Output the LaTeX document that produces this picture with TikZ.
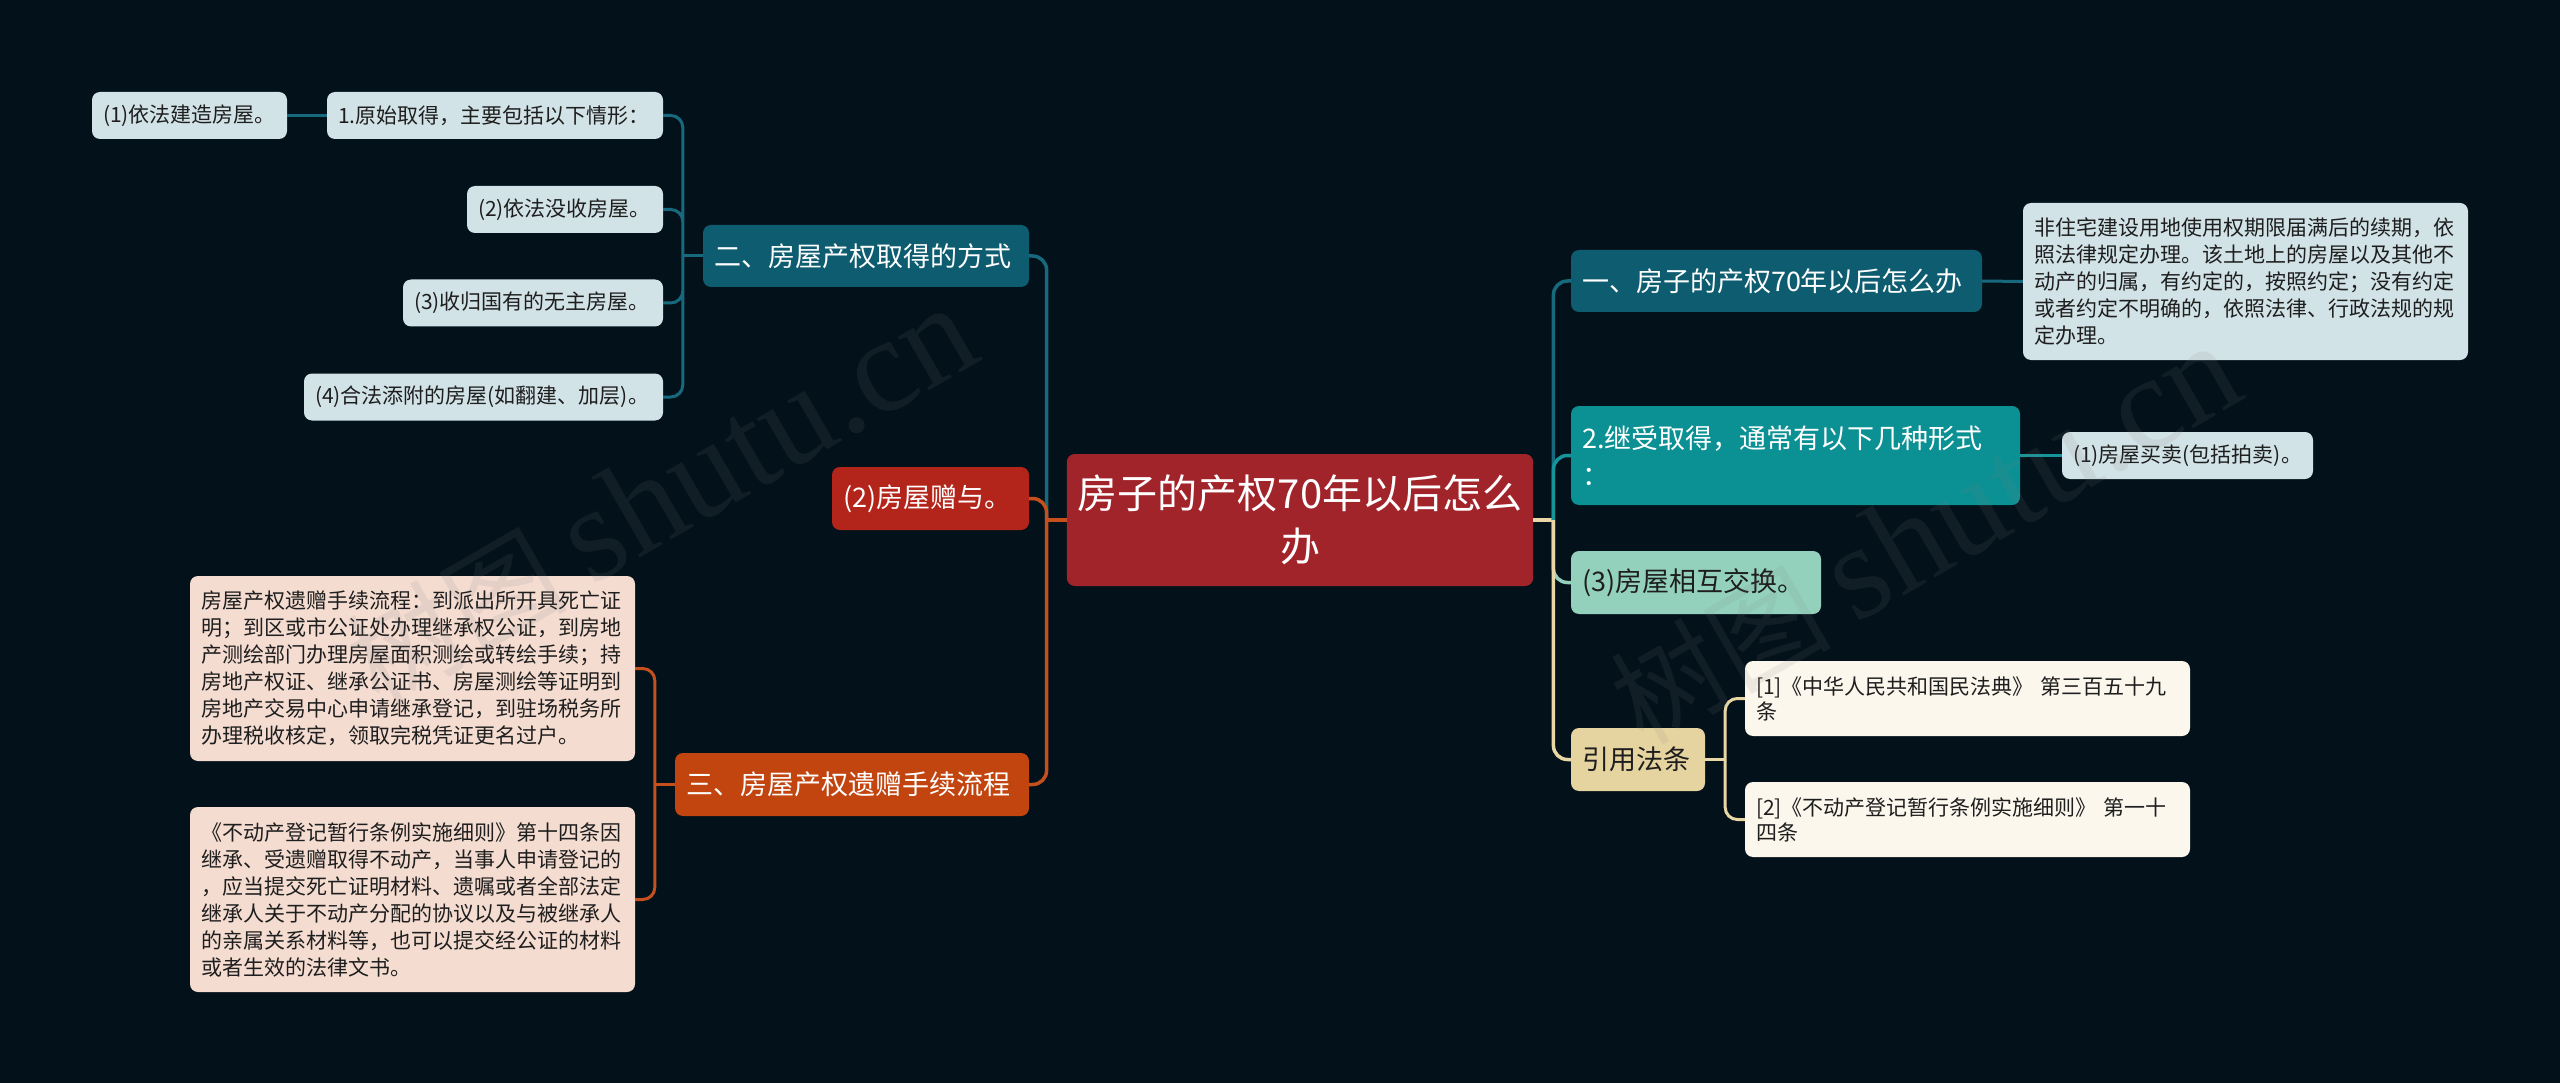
\documentclass[tikz,border=0pt]{standalone}
\usepackage{fontspec}
\setmainfont{Noto Sans CJK SC}
\newfontfamily\markfont{Liberation Serif}
\usetikzlibrary{positioning}

\definecolor{bgdark}{HTML}{03111A}
\definecolor{rootred}{HTML}{A2242B}
\definecolor{topicteal}{HTML}{0E5C70}
\definecolor{midteal}{HTML}{0B9094}
\definecolor{mint}{HTML}{93D1BD}
\definecolor{sand}{HTML}{E6D4A0}
\definecolor{paper}{HTML}{FBF7ED}
\definecolor{leafblue}{HTML}{D2E3E7}
\definecolor{giftred}{HTML}{B3241A}
\definecolor{rust}{HTML}{C2450F}
\definecolor{peach}{HTML}{F4DCD1}
\definecolor{ink}{HTML}{1E1E1E}
\definecolor{tealline}{HTML}{176A7E}
\definecolor{rustline}{HTML}{C64F1E}
\definecolor{midline}{HTML}{15959A}
\definecolor{mintline}{HTML}{93D1BD}
\definecolor{sandline}{HTML}{E8D7A4}

\tikzset{
  box/.style={rectangle, rounded corners=8pt, inner xsep=11pt, inner ysep=0pt, align=left},
  leaf/.style={box, font=\fontsize{21}{27}\selectfont, text=ink},
  topic/.style={box, font=\fontsize{27}{37}\selectfont, minimum height=62pt},
  link/.style={line width=3pt, rounded corners=12pt},
  mainlink/.style={line width=3.5pt, rounded corners=14pt},
}

\begin{document}
\begin{tikzpicture}[x=1pt, y=-1pt]
    \fill[bgdark] (0,0) rectangle (2560,1083);
    \useasboundingbox (0,0) rectangle (2560,1083);

    % root
    \node[box, fill=rootred, text=white, align=center, font=\fontsize{40}{53}\selectfont, minimum width=460pt, minimum height=132pt] (zx) at (1300, 520) {房子的产权70年以后怎么\\办};

    % left side
    \node[topic, fill=topicteal, text=white, text width=304pt] (er) at (866, 256) {二、房屋产权取得的方式};
    \node[topic, fill=giftred, text=white, text width=175pt, minimum height=63pt] (zy) at (930.5, 498.5) {(2)房屋赠与。};
    \node[topic, fill=rust, text=white, text width=332pt, minimum height=63pt] (san) at (852, 784.5) {三、房屋产权遗赠手续流程};

    \node[leaf, fill=leafblue, text width=173pt, minimum height=47pt] (n1a) at (189.5, 115.5) {(1)依法建造房屋。};
    \node[leaf, fill=leafblue, text width=314pt, minimum height=47pt] (ori) at (495, 115.5) {1.原始取得，主要包括以下情形：};
    \node[leaf, fill=leafblue, text width=174pt, minimum height=47pt] (p2) at (565, 209.5) {(2)依法没收房屋。};
    \node[leaf, fill=leafblue, text width=238pt, minimum height=47pt] (p3) at (533, 303) {(3)收归国有的无主房屋。};
    \node[leaf, fill=leafblue, text width=337pt, minimum height=47pt] (p4) at (483.5, 397) {(4)合法添附的房屋(如翻建、加层)。};

    \node[leaf, fill=peach, text width=423pt, minimum height=185pt] (yz1) at (412.5, 668.5) {房屋产权遗赠手续流程：到派出所开具死亡证\\明；到区或市公证处办理继承权公证，到房地\\产测绘部门办理房屋面积测绘或转绘手续；持\\房地产权证、继承公证书、房屋测绘等证明到\\房地产交易中心申请继承登记，到驻场税务所\\办理税收核定，领取完税凭证更名过户。};
    \node[leaf, fill=peach, text width=423pt, minimum height=185pt] (yz2) at (412.5, 899.5) {《不动产登记暂行条例实施细则》第十四条因\\继承、受遗赠取得不动产，当事人申请登记的\\，应当提交死亡证明材料、遗嘱或者全部法定\\继承人关于不动产分配的协议以及与被继承人\\的亲属关系材料等，也可以提交经公证的材料\\或者生效的法律文书。};

    % right side
    \node[topic, fill=topicteal, text=white, text width=389pt] (yi) at (1776.5, 281) {一、房子的产权70年以后怎么办};
    \node[leaf, fill=leafblue, text width=423pt, minimum height=157pt] (yit) at (2245.5, 281.5) {非住宅建设用地使用权期限届满后的续期，依\\照法律规定办理。该土地上的房屋以及其他不\\动产的归属，有约定的，按照约定；没有约定\\或者约定不明确的，依照法律、行政法规的规\\定办理。};
    \node[topic, fill=midteal, text=white, text width=427pt, minimum height=99pt] (ji) at (1795.5, 455.5) {2.继受取得，通常有以下几种形式\\：};
    \node[leaf, fill=leafblue, text width=229pt, minimum height=47pt] (mm) at (2187.5, 455.5) {(1)房屋买卖(包括拍卖)。};
    \node[topic, fill=mint, text=ink, text width=228pt, minimum height=63pt] (jh) at (1696, 582.5) {(3)房屋相互交换。};
    \node[topic, fill=sand, text=ink, text width=112pt, minimum height=63pt] (yy) at (1638, 759.5) {引用法条};
    \node[leaf, fill=paper, font=\fontsize{21}{25}\selectfont, text width=423pt, minimum height=75pt] (f1) at (1967.5, 698.5) {[1]《中华人民共和国民法典》 第三百五十九\\条};
    \node[leaf, fill=paper, font=\fontsize{21}{25}\selectfont, text width=423pt, minimum height=75pt] (f2) at (1967.5, 819.5) {[2]《不动产登记暂行条例实施细则》 第一十\\四条};

    \coordinate (lb) at ([xshift=-20pt]zx.west);
    \coordinate (rb) at ([xshift=20pt]zx.east);
    \coordinate (erb) at ([xshift=-20pt]er.west);
    \coordinate (sanb) at ([xshift=-20pt]san.west);
    \coordinate (yyb) at ([xshift=20pt]yy.east);

    % main branches
    \draw[mainlink, tealline] (lb) |- (er.east);
    \draw[rustline, line width=3.5pt] (zx.west) -- (lb);
    \draw[mainlink, rustline] (lb) |- (zy.east)
        (lb) |- (san.east);
    \draw[sandline, line width=3.5pt] (zx.east) -- (rb);
    \draw[mainlink, tealline] (rb) |- (yi.west);
    \draw[mainlink, midline] (rb) |- (ji.west);
    \draw[mainlink, mintline] (rb) |- (jh.west);
    \draw[mainlink, sandline] (rb) |- (yy.west);

    % sub branches
    \draw[tealline, line width=3pt] (er.west) -- (erb)
        (ori.west) -- (n1a.east);
    \draw[link, tealline] (erb) |- (ori.east)
        (erb) |- (p2.east)
        (erb) |- (p3.east)
        (erb) |- (p4.east);
    \draw[rustline, line width=3pt] (san.west) -- (sanb);
    \draw[link, rustline] (sanb) |- (yz1.east)
        (sanb) |- (yz2.east);
    \draw[tealline, line width=3pt] (yi.east) -- (yit.west);
    \draw[midline, line width=3pt] (ji.east) -- (mm.west);
    \draw[sandline, line width=3pt] (yy.east) -- (yyb);
    \draw[link, sandline] (yyb) |- (f1.west)
        (yyb) |- (f2.west);

    % watermark
    \node[rotate=30, text=gray, opacity=0.12, font=\fontsize{110}{110}\selectfont] (wm1) at (661, 497) {树图 {\markfont\fontsize{135}{135}\selectfont shutu.cn}};
    \node[rotate=30, text=gray, opacity=0.12, font=\fontsize{110}{110}\selectfont] (wm2) at (1925, 535) {树图 {\markfont\fontsize{135}{135}\selectfont shutu.cn}};
\end{tikzpicture}
\end{document}
